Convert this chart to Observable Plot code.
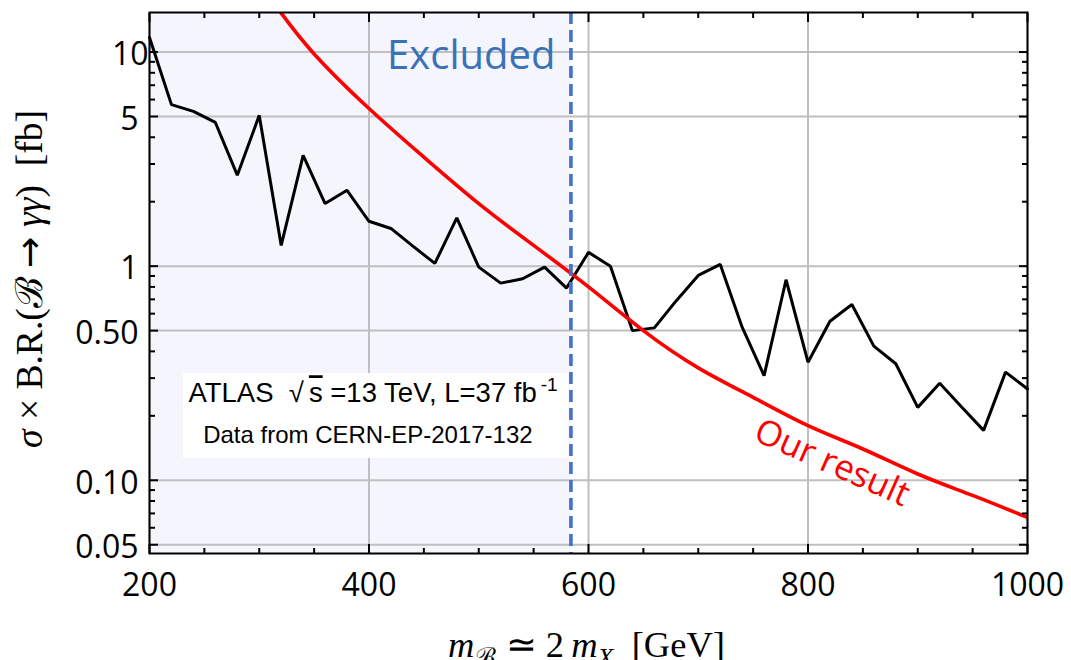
<!DOCTYPE html>
<html>
<head>
<meta charset="utf-8">
<script src="https://cdn.jsdelivr.net/npm/d3@7"></script>
<script src="https://cdn.jsdelivr.net/npm/@observablehq/plot@0.6"></script>
<style>
  html, body { margin: 0; padding: 0; background: #fff; }
  svg text { white-space: pre; }
</style>
</head>
<body>
<div id="chart"></div>
<script>
// ATLAS diphoton limit (13 TeV, 37 fb^-1), one point every 20 GeV
const limitMass = [200, 220, 240, 260, 280, 300, 320, 340, 360, 380, 400, 420, 440, 460, 480, 500,
  520, 540, 560, 580, 600, 620, 640, 660, 680, 700, 720, 740, 760, 780, 800, 820, 840, 860, 880,
  900, 920, 940, 960, 980, 1000];
const limitXsec = [11.7, 5.68, 5.28, 4.69, 2.66, 5.06, 1.25, 3.29, 1.96, 2.26, 1.62, 1.50, 1.24,
  1.03, 1.68, 0.99, 0.833, 0.873, 0.99, 0.79, 1.16, 1.00, 0.50, 0.515, 0.69, 0.905, 1.02, 0.519,
  0.308, 0.864, 0.356, 0.553, 0.662, 0.423, 0.35, 0.219, 0.284, 0.22, 0.171, 0.32, 0.267];

// Predicted sigma x BR for the bound state
const resultMass = [300, 320, 350, 400, 450, 500, 550, 600, 650, 700, 750, 800, 850, 900, 950, 1000];
const resultXsec = [20.8, 15.2, 9.8, 5.45, 3.23, 1.96, 1.25, 0.80, 0.50, 0.335, 0.244, 0.180,
  0.140, 0.107, 0.085, 0.067];

// Excluded mass range (below the crossing point)
const excludedFrom = 200;
const excludedBelow = 584;

// Axes
const xDomain = [200, 1000];
const yDomain = [0.0455, 15.3];
const xMajorTicks = [200, 400, 600, 800, 1000];
const xMinorTicks = [250, 300, 350, 450, 500, 550, 650, 700, 750, 850, 900, 950];
const yMajorTicks = [0.05, 0.1, 0.5, 1, 5, 10];
const yMinorTicks = [0.06, 0.07, 0.08, 0.09, 0.2, 0.3, 0.4, 0.6, 0.7, 0.8, 0.9, 2, 3, 4, 6, 7, 8, 9];
const yTickLabels = ["0.05", "0.10", "0.50", "1", "5", "10"];

// Annotations (placed in data coordinates)
const excludedLabel = {x: 569.9, y: 8.3, text: "Excluded"};
const resultLabel = {x: 822, y: 0.1206, text: "Our result", angle: 24};
const infoBox = {x1: 231, x2: 582, y1: 0.1263, y2: 0.315};
const infoLine1 = {x: 235.5, y: 0.2314, text: "ATLAS  √s =13 TeV, L=37 fb-1"};
const infoLine2 = {x: 248.9, y: 0.149, text: "Data from CERN-EP-2017-132"};
const xTitle = "m_B ≃ 2 m_X [GeV]";
const yTitle = "σ × B.R.(B → γγ) [fb]";

const limits = limitMass.map((m, i) => ({m, v: limitXsec[i]}));
const result = resultMass.map((m, i) => ({m, v: resultXsec[i]}));
const labelOf = new Map(yMajorTicks.map((t, i) => [t, yTickLabels[i]]));

const gridColor = "#bfbfc3";
const tickFont = {fontSize: 32, fontFamily: "Open Sans"};

const chart = Plot.plot({
  width: 1071,
  height: 660,
  marginLeft: 149,
  marginRight: 44,
  marginTop: 12,
  marginBottom: 107,
  style: {background: "#fff", fontFamily: "Open Sans", color: "#000"},
  x: {domain: xDomain, label: null},
  y: {type: "log", domain: yDomain, label: null},
  marks: [
    // shaded excluded region
    Plot.rect([{x1: excludedFrom, x2: excludedBelow}], {
      x1: "x1", x2: "x2", y1: yDomain[0], y2: yDomain[1], fill: "#f4f5fd"
    }),
    // grid
    Plot.gridX(xMajorTicks, {stroke: gridColor, strokeOpacity: 1, strokeWidth: 2}),
    Plot.gridY(yMajorTicks, {stroke: gridColor, strokeOpacity: 1, strokeWidth: 2}),
    // white info box
    Plot.rect([infoBox], {x1: "x1", x2: "x2", y1: "y1", y2: "y2", fill: "#fff"}),
    // ATLAS limit
    Plot.line(limits, {x: "m", y: "v", stroke: "#000", strokeWidth: 3, strokeLinejoin: "miter"}),
    // prediction
    Plot.line(result, {x: "m", y: "v", stroke: "#ff0000", strokeWidth: 3.6, curve: "natural", clip: true}),
    // exclusion boundary
    Plot.ruleX([excludedBelow], {stroke: "#4472c4", strokeWidth: 3.6, strokeDasharray: "12,6"}),
    // labels
    Plot.text([excludedLabel], {
      x: "x", y: "y", text: "text", textAnchor: "end", lineAnchor: "bottom",
      fill: "#3a72b8", fontSize: 40, fontFamily: "Open Sans"
    }),
    Plot.text([resultLabel], {
      x: "x", y: "y", text: "text", rotate: resultLabel.angle, textAnchor: "middle", lineAnchor: "middle",
      fill: "#ff0000", fontSize: 35, fontFamily: "Open Sans"
    }),
    Plot.text([infoLine1], {
      x: "x", y: "y", text: "text", textAnchor: "start", lineAnchor: "bottom",
      fill: "#000", fontSize: 27.5, fontFamily: "Liberation Sans"
    }),
    Plot.text([infoLine2], {
      x: "x", y: "y", text: "text", textAnchor: "start", lineAnchor: "bottom",
      fill: "#000", fontSize: 24, fontFamily: "Liberation Sans"
    }),
    // frame and inward ticks
    Plot.frame({stroke: "#000", strokeWidth: 2}),
    Plot.axisX(xMajorTicks, {anchor: "bottom", tickSize: -9, strokeWidth: 2, tickFormat: () => "", label: null}),
    Plot.axisX(xMinorTicks, {anchor: "bottom", tickSize: -5, strokeWidth: 2, tickFormat: () => "", label: null}),
    Plot.axisX(xMajorTicks, {anchor: "top", tickSize: -9, strokeWidth: 2, tickFormat: () => "", label: null}),
    Plot.axisX(xMinorTicks, {anchor: "top", tickSize: -5, strokeWidth: 2, tickFormat: () => "", label: null}),
    Plot.axisY(yMajorTicks, {anchor: "left", tickSize: -9, strokeWidth: 2, tickFormat: () => "", label: null}),
    Plot.axisY(yMinorTicks, {anchor: "left", tickSize: -6, strokeWidth: 2, tickFormat: () => "", label: null}),
    Plot.axisY(yMajorTicks, {anchor: "right", tickSize: -9, strokeWidth: 2, tickFormat: () => "", label: null}),
    Plot.axisY(yMinorTicks, {anchor: "right", tickSize: -6, strokeWidth: 2, tickFormat: () => "", label: null}),
    // tick labels
    Plot.axisX(xMajorTicks, {anchor: "bottom", tickSize: 0, tickPadding: 20, tickFormat: d => String(d), label: null, ...tickFont}),
    Plot.axisY(yMajorTicks.filter(t => t !== 10), {
      anchor: "left", tickSize: 0, tickPadding: 11, dy: 3, tickFormat: d => labelOf.get(d), label: null, ...tickFont
    }),
    Plot.axisY([10], {anchor: "left", tickSize: 0, tickPadding: 1, dy: 3, tickFormat: d => labelOf.get(d), label: null, ...tickFont}),
    // axis titles
    Plot.text([xTitle], {frameAnchor: "bottom", dy: 103, dx: -2, textAnchor: "middle", lineAnchor: "bottom",
      fontSize: 36.5, fontFamily: "Liberation Serif"}),
    Plot.text([yTitle], {frameAnchor: "left", dx: -108, dy: -4, rotate: -90, textAnchor: "middle",
      lineAnchor: "bottom", fontSize: 37.5, fontFamily: "Liberation Serif"})
  ]
});

// Rich text: italics, sub- and superscripts
function rich(content, parts) {
  const t = d3.select(chart).selectAll("text").filter(function() { return this.textContent === content; });
  t.text(null);
  for (const p of parts) {
    const s = t.append("tspan").text(p.t);
    if (p.italic) s.attr("font-style", "italic");
    if (p.dx) s.attr("dx", p.dx);
    if (p.dy) s.attr("dy", p.dy);
    if (p.size) s.attr("font-size", p.size);
    if (p.family) s.attr("font-family", p.family);
    if (p.style) s.attr("style", p.style);
  }
}

rich(xTitle, [
  {t: "m", italic: true},
  {t: "ℬ", dy: 9, size: 26, family: "DejaVu Serif"},
  {t: " ≃ 2\u2009", dy: -9},
  {t: "m", italic: true},
  {t: "X", italic: true, dy: 9, size: 26},
  {t: "  [GeV]", dy: -9}
]);

rich(yTitle, [
  {t: "σ", italic: true},
  {t: " × B.R.("},
  {t: "ℬ", family: "DejaVu Serif"},
  {t: " "},
  {t: "→", family: "DejaVu Sans"},
  {t: " "},
  {t: "γγ", italic: true},
  {t: ")  [fb]"}
]);

rich(infoLine1.text, [
  {t: "ATLAS  √"},
  {t: "s", dx: 5, style: "text-decoration: overline"},
  {t: " =13 TeV, L=37 fb"},
  {t: "-1", dx: 4, dy: -11, size: 19}
]);

document.getElementById("chart").append(chart);
</script>
</body>
</html>
